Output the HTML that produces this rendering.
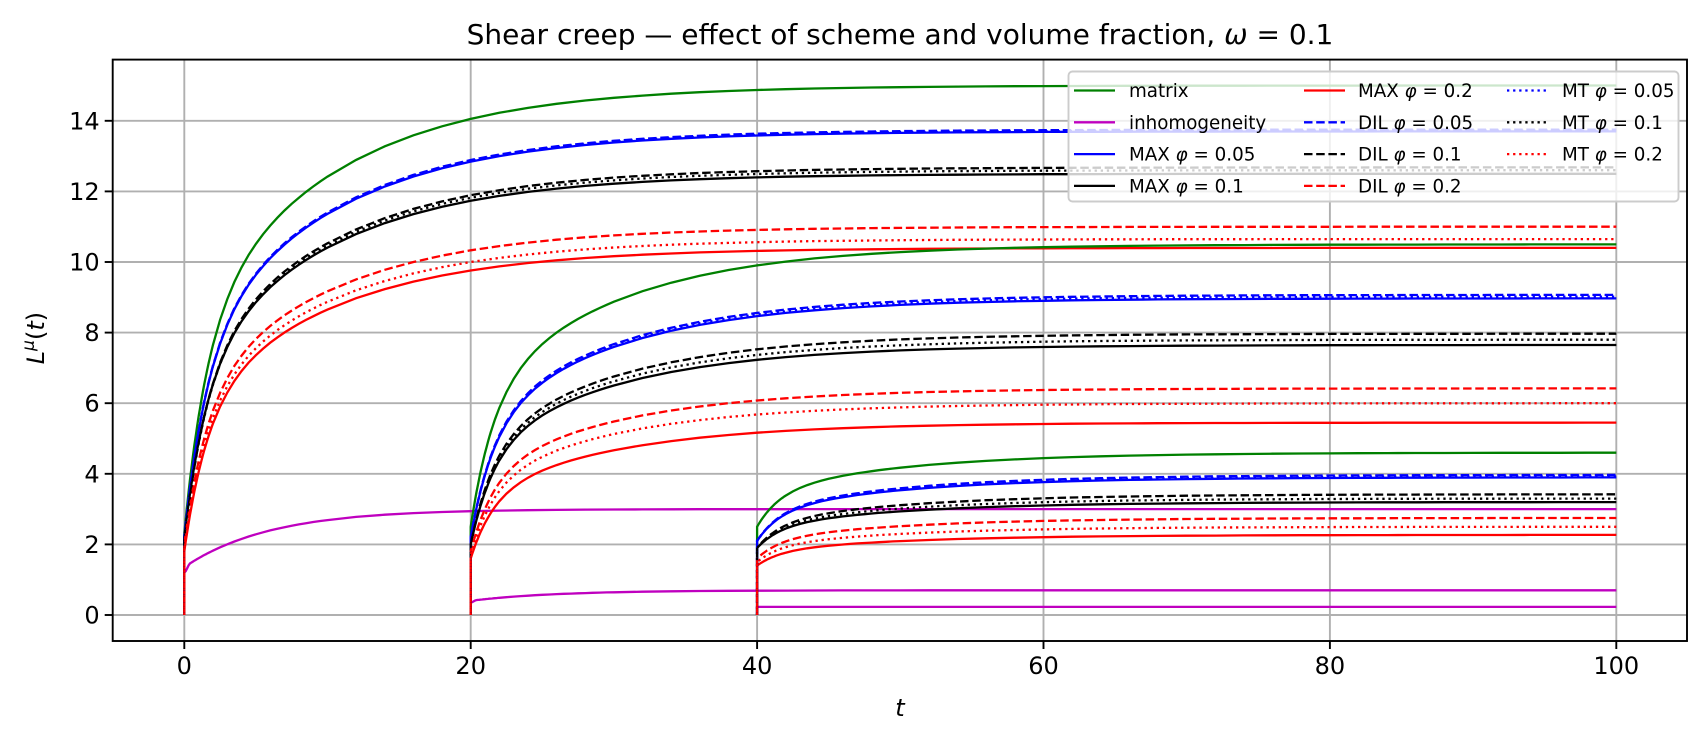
<!DOCTYPE html>
<html><head><meta charset="utf-8"><style>
html,body{margin:0;padding:0;background:#fff;}
svg{display:block;font-family:"DejaVu Sans","Liberation Sans",sans-serif;}
</style></head><body>
<svg id="s" width="1706" height="742" viewBox="0 0 1706 742" xmlns="http://www.w3.org/2000/svg">
<rect width="1706" height="742" fill="#fff"/>
<g id="grid" stroke="#b0b0b0" stroke-width="1.9"></g>
<g id="curves" fill="none" stroke-width="2.3"></g>
<g id="frame"></g>
<text x="900" y="44" font-size="28" text-anchor="middle">Shear creep — effect of scheme and volume fraction, <tspan font-style="italic">ω</tspan> = 0.1</text>
<text x="900" y="716" font-size="24" font-style="italic" text-anchor="middle">t</text>
<text transform="translate(44,338) rotate(-90)" font-size="24" text-anchor="middle"><tspan font-style="italic">L</tspan><tspan font-style="italic" font-size="17" dy="-10">μ</tspan><tspan dy="10">(</tspan><tspan font-style="italic">t</tspan>)</text>
<g id="legend"></g>
</svg>
<script>
const NS="http://www.w3.org/2000/svg";
const X=t=>184.3+t*14.32, Y=v=>615-v*35.3;
const L=112.7,R=1687,T=59.6,B=641;
function el(tag,attrs,parent,txt){const e=document.createElementNS(NS,tag);for(const k in attrs)e.setAttribute(k,attrs[k]);if(txt!==undefined)e.textContent=txt;parent.appendChild(e);return e;}
const grid=document.getElementById('grid'),frame=document.getElementById('frame'),cur=document.getElementById('curves'),leg=document.getElementById('legend');
for(let t=0;t<=100;t+=20){el('line',{x1:X(t),x2:X(t),y1:T,y2:B},grid);
 el('line',{x1:X(t),x2:X(t),y1:B,y2:B+8,stroke:'#000','stroke-width':1.9},frame);
 el('text',{x:X(t),y:B+33,'font-size':24,'text-anchor':'middle'},frame,String(t));}
for(let v=0;v<=14;v+=2){el('line',{x1:L,x2:R,y1:Y(v),y2:Y(v)},grid);
 el('line',{x1:L-8,x2:L,y1:Y(v),y2:Y(v),stroke:'#000','stroke-width':1.9},frame);
 el('text',{x:L-13,y:Y(v)+8.5,'font-size':24,'text-anchor':'end'},frame,String(v));}
el('rect',{x:L,y:T,width:R-L,height:B-T,fill:'none',stroke:'#000','stroke-width':1.9},frame);
const DASH={s:'',d:'8.5,3.7',o:'2.3,3.8'};
function f(s){return 1-0.45*Math.exp(-s/1.6)-0.55*Math.exp(-s/10);}
function curve(t0,j0,ji,col,ds,fn){
 let p=`M${X(t0).toFixed(1)},${Y(0).toFixed(1)}`;
 const ss=[];for(let s=0;s<=100-t0+1e-9;){ss.push(s);s+= s<2?0.1:(s<10?0.5:2);}
 if(ss[ss.length-1]<100-t0)ss.push(100-t0);
 for(const s of ss){const v=fn?fn(s):j0+(ji-j0)*f(s);p+=`L${X(t0+s).toFixed(1)},${Y(v).toFixed(1)}`;}
 const a={d:p,stroke:col};if(DASH[ds])a['stroke-dasharray']=DASH[ds];el('path',a,cur);
}
const G='#008000',M='#bf00bf',Bl='#0000ff',K='#000',Rd='#ff0000';
curve(0,0,0,M,'s',s=>s<0.05?1.2:(s<0.35?1.2+(s-0.05)/0.3*0.25:1.45+1.55*(1-Math.exp(-(s-0.35)/6))));
curve(20,0,0,M,'s',s=>s<0.05?0.35:(s<0.35?0.35+(s-0.05)/0.3*0.07:0.42+0.28*(1-Math.exp(-(s-0.35)/6))));
curve(40,0,0,M,'s',s=>0.23);
const sets=[
[0,[[2.3,15.0,G,'s'],[2.2,13.7,Bl,'s'],[2.2,12.5,K,'s'],[1.8,10.4,Rd,'s'],[2.2,13.75,Bl,'d'],[2.1,12.68,K,'d'],[2.0,11.0,Rd,'d'],[2.2,13.72,Bl,'o'],[2.1,12.6,K,'o'],[1.9,10.65,Rd,'o']]],
[20,[[2.5,10.5,G,'s'],[2.2,8.97,Bl,'s'],[2.0,7.65,K,'s'],[1.6,5.45,Rd,'s'],[2.2,9.07,Bl,'d'],[2.0,7.97,K,'d'],[1.8,6.42,Rd,'d'],[2.2,9.02,Bl,'o'],[2.0,7.8,K,'o'],[1.7,6.0,Rd,'o']]],
[40,[[2.5,4.6,G,'s'],[2.1,3.9,Bl,'s'],[1.9,3.2,K,'s'],[1.4,2.27,Rd,'s'],[2.1,3.97,Bl,'d'],[1.9,3.42,K,'d'],[1.6,2.75,Rd,'d'],[2.1,3.93,Bl,'o'],[1.9,3.3,K,'o'],[1.5,2.5,Rd,'o']]]];
for(const [t0,arr] of sets)for(const [a,b,c,d] of arr)curve(t0,a,b,c,d);
el('rect',{x:1068.5,y:71.5,width:610,height:130,rx:4,fill:'#fff','fill-opacity':0.8,stroke:'#cccccc','stroke-width':1.9},leg);
const cols=[[1074,1129],[1304,1358],[1507,1562]];
const items=[[G,'s','matrix'],[M,'s','inhomogeneity'],[Bl,'s','MAX ','0.05'],[K,'s','MAX ','0.1'],
[Rd,'s','MAX ','0.2'],[Bl,'d','DIL ','0.05'],[K,'d','DIL ','0.1'],[Rd,'d','DIL ','0.2'],
[Bl,'o','MT ','0.05'],[K,'o','MT ','0.1'],[Rd,'o','MT ','0.2']];
items.forEach((it,i)=>{const c=cols[Math.floor(i/4)],r=i%4,y=90.5+r*31.8;
 const a={x1:c[0],x2:c[0]+41,y1:y,y2:y,stroke:it[0],'stroke-width':2.3};if(DASH[it[1]])a['stroke-dasharray']=DASH[it[1]];el('line',a,leg);
 const t=el('text',{x:c[1],y:y+6.5,'font-size':18.3},leg);
 if(it.length==3)t.textContent=it[2];else{t.textContent=it[2];el('tspan',{'font-style':'italic'},t,'φ');el('tspan',{},t,' = '+it[3]);}
});
</script>
</body></html>
